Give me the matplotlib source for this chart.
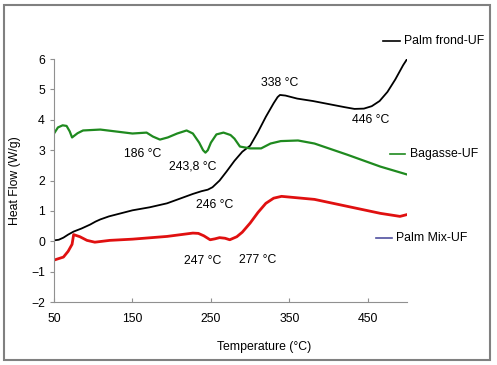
import matplotlib
matplotlib.use('Agg')
import matplotlib.pyplot as plt
from matplotlib.lines import Line2D
from matplotlib.patches import Rectangle

plt.rcParams['font.family'] = ['Liberation Sans', 'DejaVu Sans']

# Palm frond-UF (black)
frond_t = [50, 56, 62, 68, 75, 85, 96, 103, 109, 120, 135, 150, 172, 194, 210, 227, 238, 246, 252,
           261, 270, 280, 290, 300, 310, 320, 330, 335, 338, 345, 360, 380, 400, 420, 433, 445,
           455, 465, 475, 485, 495, 500]
frond_h = [0.03, 0.05, 0.12, 0.22, 0.32, 0.42, 0.55, 0.65, 0.72, 0.82, 0.92, 1.02, 1.12, 1.25,
           1.4, 1.56, 1.65, 1.7, 1.78, 2.0, 2.3, 2.65, 2.95, 3.15, 3.6, 4.1, 4.55, 4.75, 4.82,
           4.8, 4.7, 4.62, 4.52, 4.42, 4.36, 4.37, 4.45, 4.62, 4.92, 5.33, 5.8, 6.0]

# Bagasse-UF (green)
bag_t = [50, 55, 61, 66, 70, 73, 76, 80, 87, 109, 150, 168, 176, 185, 195, 207, 219, 227, 235, 240,
         243, 246, 250, 257, 266, 275, 280, 287, 300, 314, 326, 339, 361, 382, 424, 466, 500]
bag_h = [3.55, 3.75, 3.82, 3.8, 3.62, 3.42, 3.48, 3.56, 3.65, 3.68, 3.55, 3.58, 3.45, 3.35, 3.42,
         3.55, 3.65, 3.55, 3.25, 3.0, 2.92, 3.0, 3.25, 3.52, 3.58, 3.5, 3.38, 3.12, 3.06, 3.06, 3.22,
         3.3, 3.32, 3.22, 2.85, 2.46, 2.2]

# Palm Mix-UF (red)
mix_t = [50, 62, 68, 73, 75, 83, 92, 102, 121, 150, 194, 227, 234, 241, 249, 255, 261, 268, 274,
         283, 290, 300, 310, 320, 330, 340, 382, 424, 466, 491, 500]
mix_h = [-0.62, -0.52, -0.33, -0.1, 0.22, 0.15, 0.03, -0.03, 0.03, 0.07, 0.16, 0.27, 0.26, 0.18,
         0.05, 0.08, 0.12, 0.1, 0.05, 0.15, 0.3, 0.6, 0.95, 1.25, 1.42, 1.48, 1.38, 1.15, 0.92, 0.82, 0.88]

peak_labels = ['338 °C', '446 °C', '186 °C', '243,8 °C', '246 °C', '247 °C', '277 °C']
peak_x = [338, 454, 163, 227, 255, 240, 310]
peak_y = [5.2, 4.0, 2.86, 2.47, 1.18, -0.66, -0.62]

fig = plt.figure(figsize=(4.97, 3.65), dpi=100)
ax = fig.add_axes([0.1087, 0.1726, 0.7103, 0.6654])

ax.plot(frond_t, frond_h, color='black', lw=1.3)
ax.plot(bag_t, bag_h, color='#1f8a1f', lw=1.6)
ax.plot(mix_t, mix_h, color='#e01010', lw=2.0)

fs = 8.8
for lab, x, y in zip(peak_labels, peak_x, peak_y):
    ax.text(x, y, lab, ha='center', va='center', fontsize=fs)

ax.set_xlim(50, 500)
ax.set_ylim(-2, 6)
ax.set_xticks([50, 150, 250, 350, 450])
ax.set_yticks(range(-2, 7))
for s in ['top', 'right']:
    ax.spines[s].set_visible(False)
for s in ['left', 'bottom']:
    ax.spines[s].set_color('#909090')
ax.tick_params(axis='both', colors='#909090', labelcolor='black', labelsize=fs, length=3)
ax.tick_params(axis='x', direction='in', pad=8)
ax.set_ylabel('Heat Flow (W/g)', fontsize=fs, labelpad=7)
fig.text(0.531, 0.049, 'Temperature (°C)', ha='center', va='center', fontsize=fs)

# separate legend entries
entries = [('Palm frond-UF', 'black', 383, 400, 404, 41),
           ('Bagasse-UF', '#1f8a1f', 390, 405, 410, 154),
           ('Palm Mix-UF', '#5050a0', 376, 392, 396, 238)]
W, H = 497, 365
for lab, col, x0, x1, xt, yp in entries:
    fig.add_artist(Line2D([x0 / W, x1 / W], [1 - yp / H, 1 - yp / H], color=col, lw=1.2))
    fig.text(xt / W, 1 - yp / H, lab, ha='left', va='center', fontsize=fs)

fig.add_artist(Rectangle((4 / W, 5 / H), 486 / W, 355 / H, transform=fig.transFigure,
                         fill=False, ec='#808080', lw=1.5))

fig.savefig('out.png', dpi=100)
